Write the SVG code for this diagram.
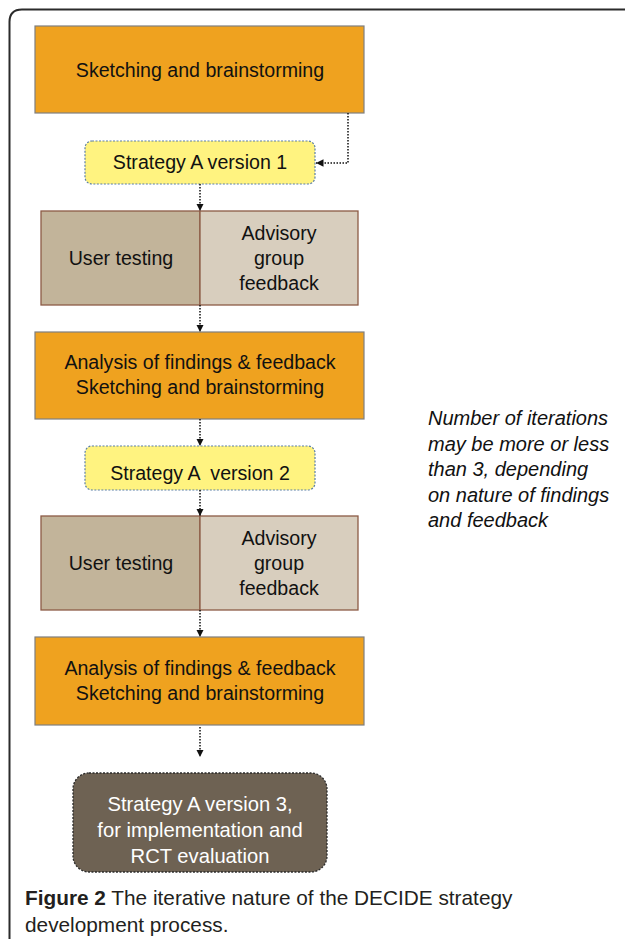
<svg xmlns="http://www.w3.org/2000/svg" width="625" height="939" viewBox="0 0 625 939">
<defs>
<style>
.t{font-family:"Liberation Sans",Arial,sans-serif;font-size:19.6px;fill:#111;text-anchor:middle}
.w{fill:#fff;font-size:20.2px}
.it{font-family:"Liberation Sans",Arial,sans-serif;font-size:20px;font-style:italic;fill:#111}
.cap{font-family:"Liberation Sans",Arial,sans-serif;font-size:20.8px;fill:#231f20}
.orange{fill:#EFA21F;stroke:#7f7f7f;stroke-width:1.2}
.yellow{fill:#FFF380;stroke:#5B7FA6;stroke-width:1.2;stroke-dasharray:2 1.5}
.ut{fill:#C2B49A;stroke:#8C5B45;stroke-width:1.3}
.ag{fill:#D8CEBE;stroke:#8C5B45;stroke-width:1.3}
.fin{fill:#6E6253;stroke:#2a2a2a;stroke-width:1.3;stroke-dasharray:2 1.5}
.c{fill:none;stroke:#111;stroke-width:1.5;stroke-dasharray:1.5 1.5}
</style>
<marker id="ah" viewBox="0 0 10 10" refX="10" refY="5" markerWidth="5" markerHeight="5" orient="auto" markerUnits="strokeWidth">
<path d="M0,0 L10,5 L0,10 z" fill="#111"/>
</marker>
</defs>
<path d="M9.5,939 V22 Q9.5,9.5 22,9.5 H625" fill="none" stroke="#2b2b2b" stroke-width="2"/>
<g id="sketch1">
<rect class="orange" x="35" y="26" width="329" height="87"/>
<text class="t" x="200" y="77">Sketching and brainstorming</text>
</g>
<g id="strategy1">
<rect class="yellow" x="85" y="141" width="230" height="43" rx="7"/>
<text class="t" x="200" y="169">Strategy A version 1</text>
</g>
<g id="testing1">
<rect class="ut" x="41" y="211" width="159" height="94"/>
<rect class="ag" x="200" y="211" width="158" height="94"/>
<text class="t" x="121" y="265">User testing</text>
<text class="t" x="279" y="240">Advisory</text>
<text class="t" x="279" y="265">group</text>
<text class="t" x="279" y="290">feedback</text>
</g>
<g id="analysis1">
<rect class="orange" x="35" y="332" width="329" height="87"/>
<text class="t" x="200" y="369">Analysis of findings &amp; feedback</text>
<text class="t" x="200" y="394">Sketching and brainstorming</text>
</g>
<g id="strategy2">
<rect class="yellow" x="85" y="446" width="230" height="44" rx="7"/>
<text class="t" x="200" y="480" style="white-space:pre">Strategy A  version 2</text>
</g>
<g id="testing2">
<rect class="ut" x="41" y="516" width="159" height="94"/>
<rect class="ag" x="200" y="516" width="158" height="94"/>
<text class="t" x="121" y="570">User testing</text>
<text class="t" x="279" y="545">Advisory</text>
<text class="t" x="279" y="570">group</text>
<text class="t" x="279" y="595">feedback</text>
</g>
<g id="analysis2">
<rect class="orange" x="35" y="637" width="329" height="88"/>
<text class="t" x="200" y="675">Analysis of findings &amp; feedback</text>
<text class="t" x="200" y="700">Sketching and brainstorming</text>
</g>
<g id="strategy3">
<rect class="fin" x="73" y="773" width="254" height="99" rx="16"/>
<text class="t w" x="200" y="811">Strategy A version 3,</text>
<text class="t w" x="200" y="837">for implementation and</text>
<text class="t w" x="200" y="863">RCT evaluation</text>
</g>
<g id="note">
<text class="it" x="428" y="425">Number of iterations</text>
<text class="it" x="428" y="451">may be more or less</text>
<text class="it" x="428" y="476">than 3, depending</text>
<text class="it" x="428" y="502">on nature of findings</text>
<text class="it" x="428" y="527">and feedback</text>
</g>
<g id="connectors">
<path class="c" d="M348,113 V163 H316" marker-end="url(#ah)"/>
<path class="c" d="M200,184 V211" marker-end="url(#ah)"/>
<path class="c" d="M200,305 V332" marker-end="url(#ah)"/>
<path class="c" d="M200,419 V446" marker-end="url(#ah)"/>
<path class="c" d="M200,490 V516" marker-end="url(#ah)"/>
<path class="c" d="M200,610 V637" marker-end="url(#ah)"/>
<path class="c" d="M200,727 V757" marker-end="url(#ah)"/>
</g>
<g id="caption">
<text class="cap" x="25" y="905"><tspan font-weight="bold">Figure 2</tspan> The iterative nature of the DECIDE strategy</text>
<text class="cap" x="25" y="932">development process.</text>
</g>
</svg>
